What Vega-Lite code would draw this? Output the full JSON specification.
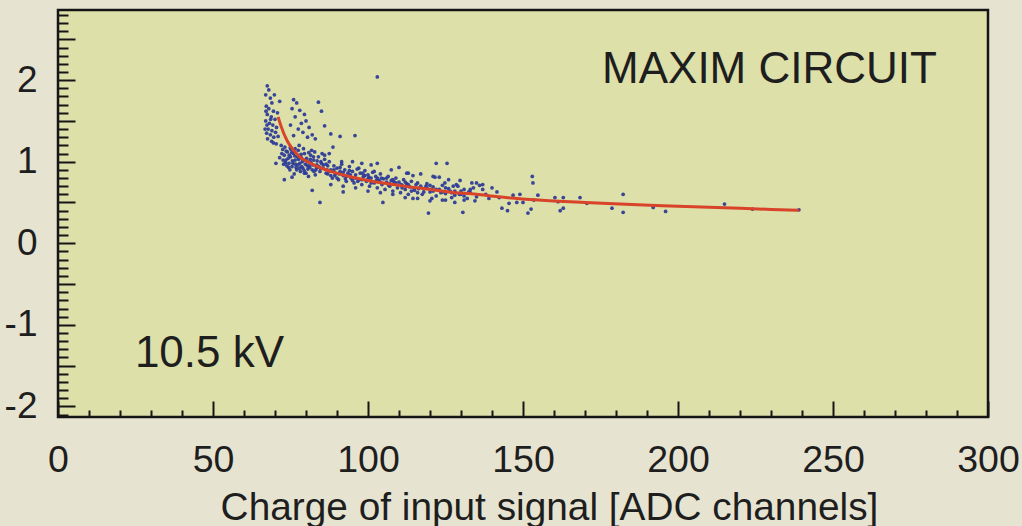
{
  "$schema": "https://vega.github.io/schema/vega-lite/v6.json",
  "width": 930,
  "height": 407,
  "autosize": "none",
  "padding": {"left": 58, "top": 10, "right": 34, "bottom": 109},
  "background": "#e6e4d1",
  "config": {
    "font": "Liberation Sans",
    "view": {"fill": "#dde0a9", "stroke": "#151515", "strokeWidth": 2.5}
  },
  "datasets": {
    "pts": [
      {"x":67.5,"y":1.93},{"x":68,"y":1.88},{"x":67,"y":1.82},{"x":68.5,"y":1.78},{"x":69,"y":1.72},{"x":67.2,"y":1.68},{"x":68,"y":1.65},{"x":69.5,"y":1.62},{"x":67.5,"y":1.58},{"x":68.8,"y":1.55},{"x":70,"y":1.52},{"x":67,"y":1.5},{"x":68.2,"y":1.47},{"x":69.3,"y":1.45},{"x":70.5,"y":1.42},{"x":67.8,"y":1.4},{"x":69,"y":1.38},{"x":70.2,"y":1.36},{"x":67.3,"y":1.35},{"x":68.5,"y":1.33},{"x":71,"y":1.31},{"x":69.6,"y":1.3},{"x":67.6,"y":1.28},{"x":68.9,"y":1.25},{"x":70.4,"y":1.22},{"x":72,"y":1.2},{"x":67.4,"y":1.45},{"x":68.6,"y":1.52},{"x":70.8,"y":1.6},{"x":66.8,"y":1.4},{"x":67.1,"y":1.62},{"x":71.5,"y":1.74},{"x":69.8,"y":1.82},
      {"x":76,"y":1.76},{"x":77,"y":1.72},{"x":75.5,"y":1.65},{"x":78,"y":1.63},{"x":79.5,"y":1.58},{"x":76.5,"y":1.55},{"x":80,"y":1.5},{"x":78.5,"y":1.47},{"x":75,"y":1.45},{"x":81,"y":1.42},{"x":77.5,"y":1.4},{"x":79,"y":1.36},{"x":82,"y":1.33},{"x":76,"y":1.32},{"x":84,"y":1.73},{"x":85,"y":1.62},{"x":83,"y":1.28},{"x":80.5,"y":1.3},{"x":88,"y":1.34},{"x":86,"y":1.44},{"x":91,"y":1.31},
      {"x":72.5,"y":1.15},{"x":73,"y":1.08},{"x":73.5,"y":1.02},{"x":74,"y":1.12},{"x":74.5,"y":0.98},{"x":75,"y":1.06},{"x":75.5,"y":0.94},{"x":76,"y":1.1},{"x":76.5,"y":1.02},{"x":77,"y":0.9},{"x":77.5,"y":1.14},{"x":78,"y":0.98},{"x":78.5,"y":1.05},{"x":79,"y":0.92},{"x":79.5,"y":1.1},{"x":80,"y":0.86},{"x":80.5,"y":1.0},{"x":81,"y":0.95},{"x":81.5,"y":1.08},{"x":82,"y":0.9},{"x":82.5,"y":1.02},{"x":83,"y":0.84},{"x":83.5,"y":0.96},{"x":84,"y":1.06},{"x":84.5,"y":0.88},{"x":85,"y":0.98},{"x":85.5,"y":0.92},{"x":86,"y":1.03},{"x":73.2,"y":1.18},{"x":74.8,"y":0.9},{"x":76.2,"y":0.85},{"x":77.8,"y":1.2},{"x":79.2,"y":1.16},{"x":80.8,"y":0.82},{"x":82.8,"y":1.12},{"x":75.8,"y":0.98},{"x":78.2,"y":0.88},{"x":81.2,"y":0.93},{"x":84.2,"y":0.94},{"x":74.2,"y":1.04},{"x":77.2,"y":1.06},{"x":79.8,"y":0.97},{"x":83.2,"y":0.9},{"x":86.5,"y":0.86},{"x":72.8,"y":0.97},{"x":75.2,"y":1.15},{"x":76.8,"y":0.93},{"x":78.8,"y":1.0},{"x":80.2,"y":1.04},{"x":82.2,"y":0.96},{"x":85.2,"y":1.1},{"x":87,"y":0.95},{"x":71.5,"y":1.05},{"x":73.8,"y":0.95},{"x":76.5,"y":1.16},{"x":79.5,"y":0.86},{"x":81.8,"y":1.14},{"x":84.8,"y":1.0},
      {"x":72.2,"y":1.1},{"x":73.6,"y":1.13},{"x":74.6,"y":1.08},{"x":75.6,"y":1.01},{"x":76.6,"y":0.97},{"x":77.6,"y":1.03},{"x":78.6,"y":0.94},{"x":79.6,"y":1.02},{"x":80.6,"y":0.91},{"x":81.6,"y":0.99},{"x":82.6,"y":0.88},{"x":83.6,"y":1.01},{"x":84.6,"y":0.92},{"x":74.4,"y":0.93},{"x":75.4,"y":1.11},{"x":77.4,"y":0.96},{"x":78.4,"y":1.09},{"x":80.4,"y":0.95},{"x":81.4,"y":1.03},{"x":83.4,"y":0.93},{"x":85.6,"y":0.96},{"x":86.8,"y":0.9},{"x":73.4,"y":0.99},{"x":76.4,"y":1.07},{"x":79.4,"y":0.89},{"x":82.4,"y":1.06},{"x":72.6,"y":1.02},{"x":74.9,"y":1.17},{"x":77.9,"y":0.92},{"x":80.9,"y":1.11},
      {"x":70.3,"y":0.98},{"x":75.5,"y":0.81},{"x":82,"y":0.65},{"x":84.5,"y":0.5},{"x":69.5,"y":1.23},{"x":73,"y":0.78},{"x":88.7,"y":1.18},{"x":95.8,"y":1.32},{"x":103,"y":2.04},{"x":110,"y":0.93},{"x":103,"y":0.98},{"x":122,"y":0.98},{"x":123,"y":0.81},{"x":92,"y":0.63},{"x":104.8,"y":0.5},{"x":119.5,"y":0.37},{"x":130.6,"y":0.38},
      {"x":86.5,"y":0.97},{"x":87,"y":0.85},{"x":87.5,"y":1.0},{"x":88,"y":0.9},{"x":88.5,"y":0.8},{"x":89,"y":0.95},{"x":89.5,"y":0.86},{"x":90,"y":0.92},{"x":90.5,"y":0.78},{"x":91,"y":0.88},{"x":91.5,"y":0.97},{"x":92,"y":0.83},{"x":92.5,"y":0.9},{"x":93,"y":0.76},{"x":93.5,"y":0.86},{"x":94,"y":0.94},{"x":94.5,"y":0.8},{"x":95,"y":0.88},{"x":95.5,"y":0.74},{"x":96,"y":0.84},{"x":96.5,"y":0.91},{"x":97,"y":0.78},{"x":97.5,"y":0.86},{"x":98,"y":0.72},{"x":98.5,"y":0.82},{"x":99,"y":0.89},{"x":99.5,"y":0.76},{"x":100,"y":0.84},{"x":100.5,"y":0.7},{"x":101,"y":0.8},{"x":101.5,"y":0.87},{"x":102,"y":0.74},{"x":102.5,"y":0.82},{"x":103,"y":0.68},{"x":103.5,"y":0.77},{"x":104,"y":0.85},{"x":104.5,"y":0.72},{"x":105,"y":0.79},{"x":105.5,"y":0.66},{"x":106,"y":0.75},{"x":106.5,"y":0.82},{"x":107,"y":0.7},{"x":107.5,"y":0.77},{"x":108,"y":0.64},{"x":108.5,"y":0.73},{"x":109,"y":0.8},{"x":109.5,"y":0.68},{"x":110,"y":0.75},{"x":110.5,"y":0.62},{"x":111,"y":0.71},{"x":111.5,"y":0.78},{"x":112,"y":0.66},{"x":112.5,"y":0.73},{"x":113,"y":0.6},{"x":113.5,"y":0.69},{"x":114,"y":0.76},{"x":115,"y":0.65},{"x":115.5,"y":0.72},{"x":116,"y":0.62},{"x":117,"y":0.7},{"x":117.5,"y":0.6},{"x":118,"y":0.67},{"x":119,"y":0.73},{"x":120,"y":0.63},{"x":121,"y":0.69},{"x":122,"y":0.58},{"x":123,"y":0.66},{"x":124,"y":0.71},{"x":125,"y":0.61},{"x":126,"y":0.67},{"x":127,"y":0.56},{"x":128,"y":0.64},{"x":129,"y":0.7},{"x":130,"y":0.6},{"x":131,"y":0.66},{"x":132,"y":0.55},{"x":133,"y":0.62},{"x":134,"y":0.68},{"x":135,"y":0.57},
      {"x":88,"y":0.83},{"x":89,"y":0.9},{"x":90,"y":0.8},{"x":91,"y":0.93},{"x":92,"y":0.87},{"x":93,"y":0.82},{"x":94,"y":0.89},{"x":95,"y":0.77},{"x":96,"y":0.8},{"x":97,"y":0.92},{"x":98,"y":0.78},{"x":99,"y":0.83},{"x":100,"y":0.79},{"x":101,"y":0.74},{"x":102,"y":0.88},{"x":103,"y":0.8},{"x":104,"y":0.75},{"x":106,"y":0.8},{"x":107,"y":0.73},{"x":108,"y":0.78},{"x":109,"y":0.74},{"x":111,"y":0.68},{"x":112,"y":0.75},{"x":113,"y":0.72},{"x":114,"y":0.64},{"x":116,"y":0.74},{"x":118,"y":0.63},{"x":119,"y":0.68},{"x":120,"y":0.71},{"x":121,"y":0.64},{"x":122,"y":0.66},{"x":124,"y":0.63},{"x":125,"y":0.68},{"x":127,"y":0.62},{"x":128,"y":0.59},{"x":130,"y":0.64},{"x":131,"y":0.58},{"x":133,"y":0.66},
      {"x":87.3,"y":0.88},{"x":89.3,"y":0.83},{"x":90.7,"y":0.85},{"x":92.7,"y":0.79},{"x":94.3,"y":0.84},{"x":96.7,"y":0.76},{"x":98.3,"y":0.86},{"x":100.3,"y":0.81},{"x":102.7,"y":0.77},{"x":104.3,"y":0.8},{"x":106.7,"y":0.71},{"x":108.3,"y":0.76},{"x":110.7,"y":0.72},{"x":112.3,"y":0.7},{"x":114.7,"y":0.68},{"x":116.3,"y":0.67},{"x":118.7,"y":0.7},{"x":120.3,"y":0.66},{"x":123.5,"y":0.62},{"x":126.5,"y":0.64},{"x":129.5,"y":0.6},{"x":132.5,"y":0.63},
      {"x":86,"y":1.08},{"x":87.5,"y":1.1},{"x":91.5,"y":1.0},{"x":95,"y":1.0},{"x":98,"y":0.98},{"x":101,"y":0.96},{"x":107.5,"y":0.9},{"x":113,"y":0.86},{"x":117,"y":0.85},{"x":121,"y":0.82},
      {"x":88,"y":0.72},{"x":92,"y":0.7},{"x":96,"y":0.68},{"x":100,"y":0.64},{"x":104,"y":0.62},{"x":108,"y":0.6},{"x":112,"y":0.56},{"x":116,"y":0.55},{"x":120,"y":0.52},{"x":124,"y":0.53},{"x":128,"y":0.5},
      {"x":112.5,"y":0.86},{"x":114.5,"y":0.83},{"x":121.6,"y":0.81},{"x":125.5,"y":0.98},{"x":124.8,"y":0.74},{"x":127.5,"y":0.7},{"x":129.7,"y":0.77},{"x":133.5,"y":0.74},{"x":135,"y":0.74},{"x":128.5,"y":0.72},{"x":120.6,"y":0.55},{"x":125,"y":0.53},{"x":131,"y":0.53},{"x":134.5,"y":0.52},{"x":114.5,"y":0.55},{"x":126,"y":0.78},{"x":137,"y":0.72},
      {"x":136,"y":0.71},{"x":137,"y":0.66},{"x":138,"y":0.6},{"x":139,"y":0.55},{"x":140,"y":0.68},{"x":141.6,"y":0.63},{"x":142.3,"y":0.56},{"x":143.2,"y":0.43},{"x":145,"y":0.4},{"x":145.5,"y":0.49},{"x":146.8,"y":0.59},{"x":148,"y":0.5},{"x":149,"y":0.6},{"x":150,"y":0.5},{"x":151.6,"y":0.37},{"x":152.6,"y":0.42},{"x":153,"y":0.82},{"x":153.2,"y":0.74},{"x":154.8,"y":0.59},{"x":153.5,"y":0.53},{"x":160.3,"y":0.56},{"x":161.3,"y":0.51},{"x":162,"y":0.4},{"x":163,"y":0.56},{"x":163,"y":0.43},{"x":168.4,"y":0.56},{"x":170.6,"y":0.49},{"x":178.7,"y":0.43},{"x":182.3,"y":0.6},{"x":182.3,"y":0.38},{"x":192,"y":0.44},{"x":196,"y":0.39},{"x":215,"y":0.48},{"x":224,"y":0.42},{"x":239,"y":0.41}
    ],
    "fit": [
      {"x":71,"y":1.55},{"x":72,"y":1.43},{"x":74,"y":1.25},{"x":76,"y":1.14},{"x":78,"y":1.06},{"x":81,"y":0.99},{"x":85,"y":0.92},{"x":89,"y":0.87},{"x":95,"y":0.81},{"x":100,"y":0.77},{"x":110,"y":0.71},{"x":120,"y":0.66},{"x":126,"y":0.63},{"x":135,"y":0.6},{"x":142,"y":0.57},{"x":155,"y":0.53},{"x":170,"y":0.5},{"x":185,"y":0.475},{"x":200,"y":0.455},{"x":215,"y":0.435},{"x":230,"y":0.415},{"x":239,"y":0.405}
    ],
    "notes": [
      {"x":175.5,"y":1.963,"t":"MAXIM CIRCUIT"},
      {"x":24.8,"y":-1.52,"t":"10.5 kV"}
    ]
  },
  "encoding": {
    "x": {
      "field": "x", "type": "quantitative",
      "scale": {"domain": [0, 300], "nice": false, "zero": false},
      "axis": {
        "title": "Charge of input signal [ADC channels]",
        "titleFont": "Liberation Sans", "titleFontSize": 38.8, "titleFontWeight": "normal", "titleColor": "#1e1e1e",
        "titleX": 491, "titleY": 102, "titleBaseline": "alphabetic", "titleAnchor": "middle", "titleAlign": "center",
        "values": [0,10,20,30,40,50,60,70,80,90,100,110,120,130,140,150,160,170,180,190,200,210,220,230,240,250,260,270,280,290,300],
        "labelExpr": "datum.value % 50 === 0 ? datum.label : ''",
        "labelFontSize": 37.5, "labelColor": "#1e1e1e", "labelBaseline": "alphabetic", "labelPadding": 70,
        "labelFlush": false, "labelOverlap": false,
        "tickSize": {"condition": {"test": "datum.value % 50 === 0", "value": -16}, "value": -7},
        "tickWidth": 2, "tickColor": "#151515",
        "domain": false, "grid": false
      }
    },
    "y": {
      "field": "y", "type": "quantitative",
      "scale": {"domain": [-2.13, 2.86], "nice": false, "zero": false},
      "axis": {
        "title": null,
        "values": [-2.1,-2,-1.9,-1.8,-1.7,-1.6,-1.5,-1.4,-1.3,-1.2,-1.1,-1,-0.9,-0.8,-0.7,-0.6,-0.5,-0.4,-0.3,-0.2,-0.1,0,0.1,0.2,0.3,0.4,0.5,0.6,0.7,0.8,0.9,1,1.1,1.2,1.3,1.4,1.5,1.6,1.7,1.8,1.9,2,2.1,2.2,2.3,2.4,2.5,2.6,2.7,2.8],
        "labelExpr": "abs(datum.value - round(datum.value)) < 0.001 ? '' + round(datum.value) : ''",
        "labelFontSize": 37, "labelColor": "#1e1e1e", "labelBaseline": "middle", "labelAlign": "right", "labelPadding": 38,
        "labelFlush": false, "labelOverlap": false,
        "tickSize": {"condition": {"test": "abs(datum.value*2 - round(datum.value*2)) < 0.01", "value": -17}, "value": -10},
        "tickWidth": 2, "tickColor": "#151515",
        "domain": false, "grid": false
      }
    }
  },
  "layer": [
    {
      "data": {"name": "pts"},
      "mark": {"type": "circle", "size": 14, "color": "#2e3c98", "opacity": 0.95}
    },
    {
      "data": {"name": "fit"},
      "mark": {"type": "line", "color": "#d8432a", "strokeWidth": 3, "interpolate": "monotone"}
    },
    {
      "data": {"name": "notes"},
      "mark": {"type": "text", "align": "left", "baseline": "alphabetic", "fontSize": 44, "color": "#1e1e1e", "font": "Liberation Sans"},
      "encoding": {"text": {"field": "t"}}
    }
  ]
}
